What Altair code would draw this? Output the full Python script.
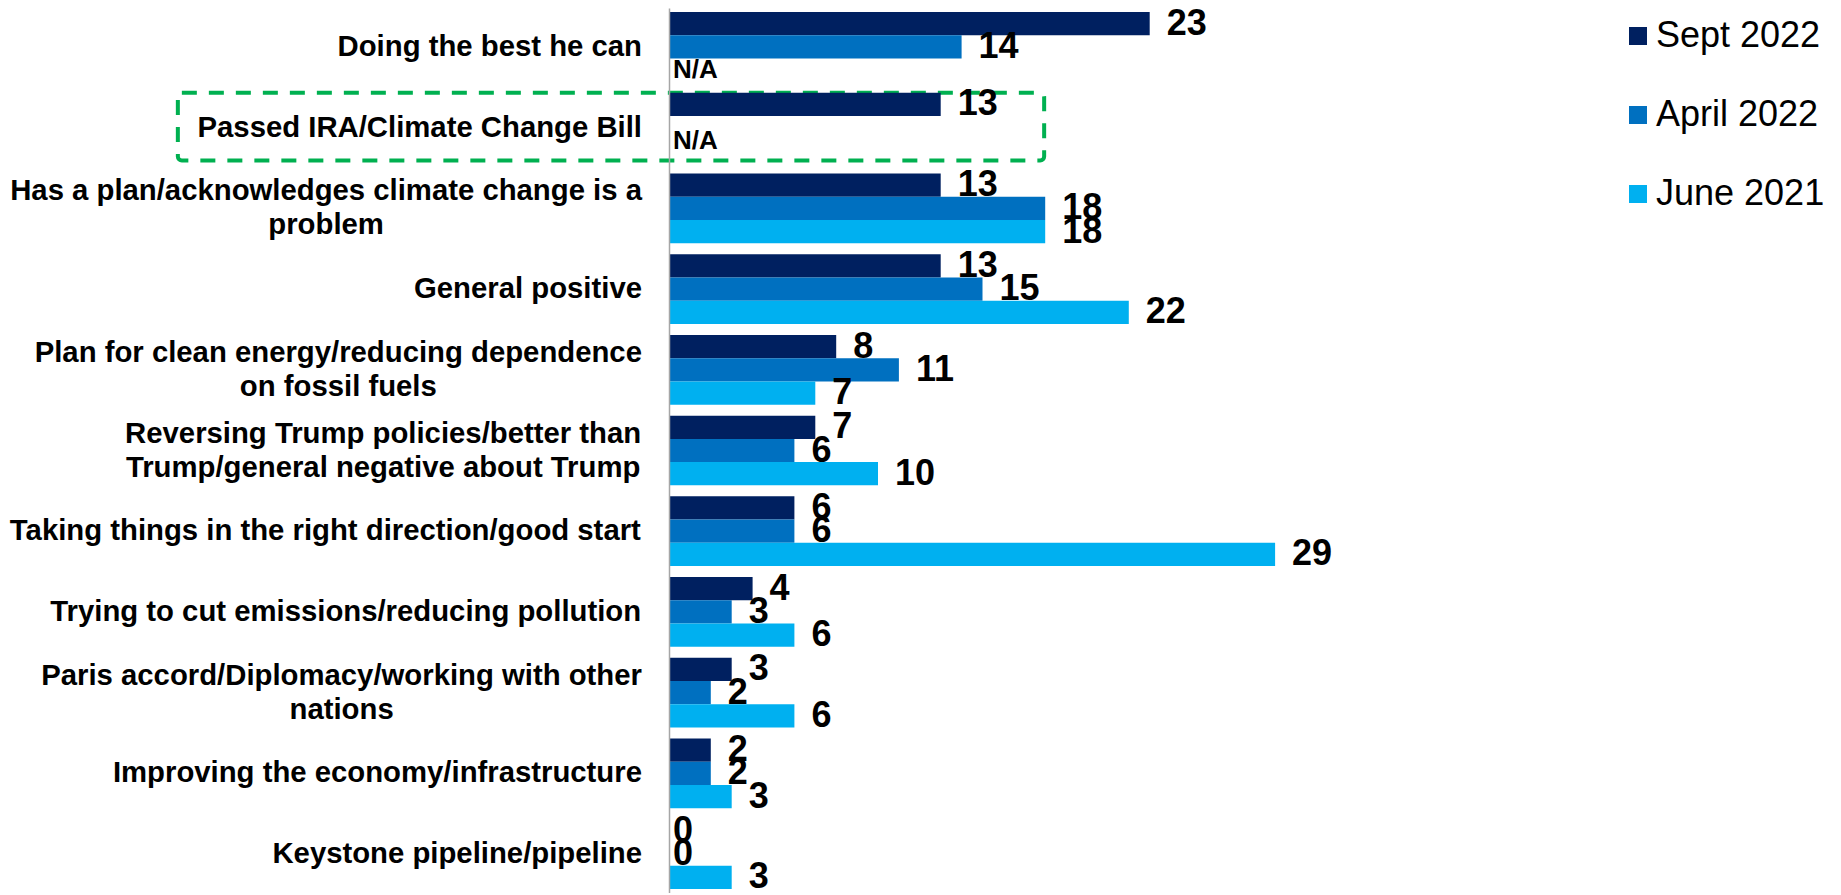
import altair as alt
import pandas as pd

# ---------------- data ----------------
CATEGORIES = [
    "Doing the best he can",
    "Passed IRA/Climate Change Bill",
    "Has a plan/acknowledges climate change is a\nproblem",
    "General positive",
    "Plan for clean energy/reducing dependence\non fossil fuels",
    "Reversing Trump policies/better than\nTrump/general negative about Trump",
    "Taking things in the right direction/good start",
    "Trying to cut emissions/reducing pollution",
    "Paris accord/Diplomacy/working with other\nnations",
    "Improving the economy/infrastructure",
    "Keystone pipeline/pipeline",
]
SERIES = ["Sept 2022", "April 2022", "June 2021"]
SEPT_2022 = [23, 13, 13, 13, 8, 7, 6, 4, 3, 2, 0]
APRIL_2022 = [14, None, 18, 15, 11, 6, 6, 3, 2, 2, 0]
JUNE_2021 = [None, None, 18, 22, 7, 10, 29, 6, 6, 3, 3]
COLORS = ["#002060", "#0070C0", "#00B0F0"]
NA_DOING = ["Doing the best he can"]            # N/A shown in the June 2021 row
NA_PASSED = ["Passed IRA/Climate Change Bill"]  # N/A shown for April 2022
HIGHLIGHT = "Passed IRA/Climate Change Bill"

# ---------------- style constants ----------------
FONT = "Liberation Sans"
LABEL_FS = 29.3
VALUE_FS = 36
PX_PER_UNIT = 20.9
X_MAX = 30
PLOT_W = PX_PER_UNIT * X_MAX
PLOT_H = 885
PAD_LEFT = 661
TOTAL_W = 1825
LABEL_GAP = 27
LINE_H = 34
BOX_X = (-23.5, 17.95)   # annotation box extent in data units

# Arial/Liberation Sans Bold advance widths (1/1000 em)
BOLD_W = {
    " ": 278, "/": 278, "A": 722, "B": 722, "C": 722, "D": 722, "E": 667, "F": 611,
    "G": 778, "H": 722, "I": 278, "J": 556, "K": 722, "L": 611, "M": 833, "N": 722,
    "O": 778, "P": 667, "Q": 778, "R": 722, "S": 667, "T": 611, "U": 722, "V": 667,
    "W": 944, "X": 667, "Y": 667, "Z": 611, "a": 556, "b": 611, "c": 556, "d": 611,
    "e": 556, "f": 333, "g": 611, "h": 611, "i": 278, "j": 278, "k": 556, "l": 278,
    "m": 889, "n": 611, "o": 611, "p": 611, "q": 611, "r": 389, "s": 556, "t": 333,
    "u": 611, "v": 556, "w": 778, "x": 556, "y": 556, "z": 500,
}


def text_w(s):
    return sum(BOLD_W.get(c, 556) for c in s) / 1000.0 * LABEL_FS


keys = [c.replace("\n", " ") for c in CATEGORIES]

rows = []
for k, s, a, j in zip(keys, SEPT_2022, APRIL_2022, JUNE_2021):
    for ser, v in zip(SERIES, [s, a, j]):
        if v is not None:
            rows.append({"cat": k, "series": ser, "value": v})
bars_df = pd.DataFrame(rows)
pos_df = bars_df[bars_df["value"] > 0]
zero_df = bars_df[bars_df["value"] == 0]

lab_rows = []
for k, c in zip(keys, CATEGORIES):
    lines = c.split("\n")
    widest = max(text_w(l) for l in lines)
    cx = -(LABEL_GAP + widest / 2.0)
    if len(lines) == 1:
        lab_rows.append({"cat": k, "txt": lines[0], "cx": cx, "pos": "single"})
    else:
        lab_rows.append({"cat": k, "txt": lines[0], "cx": cx, "pos": "top"})
        lab_rows.append({"cat": k, "txt": lines[1], "cx": cx, "pos": "bottom"})
lab_df = pd.DataFrame(lab_rows)

na1 = pd.DataFrame({"cat": NA_DOING, "series": ["June 2021"], "txt": ["N/A"]})
na2 = pd.DataFrame({"cat": NA_PASSED, "series": ["April 2022"], "txt": ["N/A"]})
box_df = pd.DataFrame({"cat": [HIGHLIGHT], "x0": [BOX_X[0]], "x1": [BOX_X[1]]})

# ---------------- encodings ----------------
y_scale = alt.Scale(paddingInner=0.136, paddingOuter=0.05)
y_axis = alt.Axis(labels=False, ticks=False, title=None, grid=False,
                  domainColor="#A6A6A6", domainWidth=1.5)
y_enc = alt.Y("cat:N", sort=keys, scale=y_scale, axis=y_axis)
yoff = alt.YOffset("series:N", sort=SERIES,
                   scale=alt.Scale(paddingInner=0, paddingOuter=0))
x_scale = alt.Scale(domain=[0, X_MAX], nice=False, zero=True)

box = alt.Chart(box_df).mark_rect(
    filled=False, stroke="#00B050", strokeWidth=4, strokeDash=[15, 12], cornerRadius=4
).encode(
    x=alt.X("x0:Q", scale=x_scale, axis=None),
    x2="x1:Q",
    y=alt.Y("cat:N", sort=keys, scale=y_scale, axis=y_axis, bandPosition=0),
    y2=alt.Y2("cat:N", bandPosition=0.97),
)

bars = alt.Chart(bars_df).mark_bar().encode(
    x=alt.X("value:Q", scale=x_scale, axis=None),
    y=y_enc,
    yOffset=yoff,
    color=alt.Color(
        "series:N", sort=SERIES,
        scale=alt.Scale(domain=SERIES, range=COLORS),
        legend=alt.Legend(
            orient="none", legendX=951, legendY=10, title=None,
            symbolType="square", symbolSize=324, symbolStrokeWidth=0,
            labelFontSize=36, labelFont=FONT, labelColor="#000000",
            labelOffset=0, labelLimit=0, rowPadding=43, padding=0,
        ),
    ),
)

val_text = alt.Chart(pos_df).mark_text(
    align="left", baseline="middle", dx=17, font=FONT, fontSize=VALUE_FS,
    fontWeight="bold", color="#000000",
).encode(
    x=alt.X("value:Q", scale=x_scale, axis=None),
    y=y_enc, yOffset=yoff, text="value:Q",
)

zero_text = alt.Chart(zero_df).mark_text(
    align="left", baseline="middle", dx=4, font=FONT, fontSize=VALUE_FS,
    fontWeight="bold", color="#000000",
).encode(
    x=alt.X("value:Q", scale=x_scale, axis=None),
    y=y_enc, yOffset=yoff, text="value:Q",
)

na_text1 = alt.Chart(na1).mark_text(
    align="left", baseline="middle", dx=4, font=FONT, fontSize=26,
    fontWeight="bold", color="#000000",
).encode(x=alt.datum(0), y=y_enc, yOffset=yoff, text="txt:N")

na_text2 = alt.Chart(na2).mark_text(
    align="left", baseline="middle", dx=4, dy=13, font=FONT, fontSize=26,
    fontWeight="bold", color="#000000",
).encode(x=alt.datum(0), y=y_enc, yOffset=yoff, text="txt:N")


def label_layer(pos, dy):
    return alt.Chart(lab_df).transform_filter(
        alt.datum.pos == pos
    ).mark_text(
        align="center", baseline="middle", dy=dy, font=FONT, fontSize=LABEL_FS,
        fontWeight="bold", color="#000000",
    ).encode(
        x=alt.X("cx:Q", scale=None),
        y=y_enc,
        text="txt:N",
    )


labels = label_layer("single", 0) + label_layer("top", -LINE_H / 2) + label_layer("bottom", LINE_H / 2)

chart = alt.layer(
    box, bars, val_text, zero_text, na_text1, na_text2, labels
).properties(
    width=PLOT_W, height=PLOT_H,
    padding={"left": PAD_LEFT, "top": 0, "right": TOTAL_W - PAD_LEFT - PLOT_W, "bottom": 0},
    autosize=alt.AutoSizeParams(type="none"),
    background="#ffffff",
).configure_view(stroke=None)

chart.save("out.html", embed_options={"renderer": "svg", "actions": False})
